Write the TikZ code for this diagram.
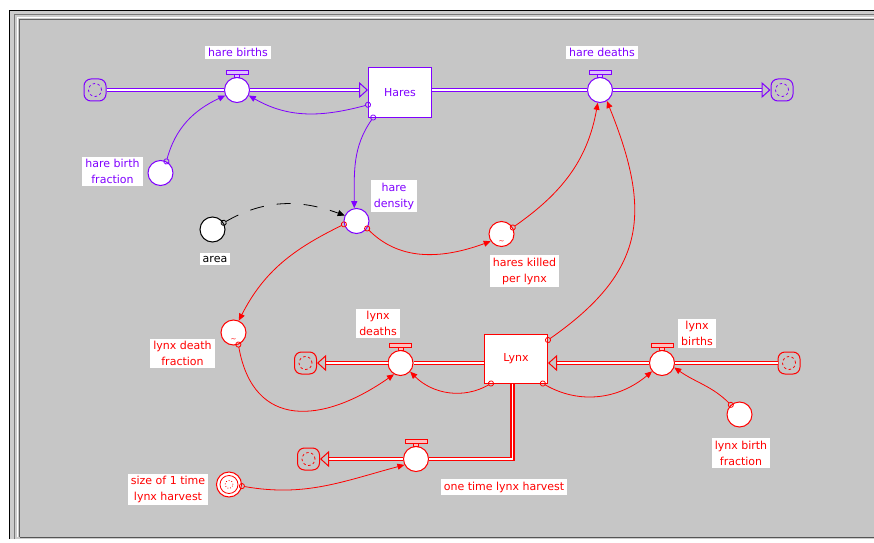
\documentclass[tikz,border=0pt]{standalone}
\usepackage{fontspec}
\setmainfont{DejaVu Sans}
\usetikzlibrary{arrows.meta}

\definecolor{harecol}{RGB}{128,0,255}
\definecolor{lynxcol}{RGB}{255,0,0}
\definecolor{bggray}{RGB}{198,198,198}
\definecolor{rimgray}{RGB}{120,120,120}

\tikzset{
    stock/.style={draw=#1, text=#1, fill=white, line width=1pt, minimum width=63pt, minimum height=49pt, font=\fontsize{11}{13}\selectfont},
    valve/.style={circle, draw=#1, fill=white, line width=1pt, minimum size=25pt, inner sep=0pt},
    conv/.style={circle, draw=#1, fill=white, line width=1pt, minimum size=25pt, inner sep=0pt},
    graphfn/.style={path picture={\node[text=#1, font=\fontsize{7}{7}\selectfont] at ([yshift=-8pt]path picture bounding box.center) {\textasciitilde};}},
    cloud/.style={draw=#1, fill=bggray, rounded corners=7pt, minimum size=22pt, inner sep=0pt, line width=1pt,
        path picture={\draw[#1, dash pattern=on 2.5pt off 2.5pt, line width=0.8pt] (path picture bounding box.center) circle (6.5pt);}},
    lbl/.style={fill=white, inner xsep=3pt, inner ysep=2.5pt, align=center, font=\fontsize{11}{16}\selectfont},
    pipe/.style={double=white, double distance=1.8pt, line width=1.2pt},
    flowtip/.tip={Triangle[open, length=9pt, width=16pt, line width'=1pt]},
    conn/.style={line width=0.8pt, {Circle[open,length=6pt]}-{Triangle[length=7pt,width=6pt]}, shorten <=-3pt},
}

\begin{document}
\begin{tikzpicture}[x=1pt, y=1pt]
    \useasboundingbox (0,0) rectangle (874,542);
    % window frame
    \fill[white] (0,0) rectangle (874,542);
    \fill[bggray!90!white] (9,3) rectangle (874,532);
    \draw[black, line width=1.5pt] (9.5,3) -- (9.5,531.5) -- (874,531.5);
    \draw[rimgray, line width=1pt] (14,3) -- (14,527) -- (874,527);
    \draw[white, line width=1pt] (17.5,5) -- (17.5,524) -- (874,524);
    \draw[rimgray!80!black, line width=1pt] (19.5,5) -- (19.5,522.5) -- (874,522.5);
    \fill[bggray] (20,5) rectangle (874,522);
    \draw[rimgray!70!black, line width=1.5pt] (19.5,4.5) -- (874,4.5);

    % hares
    \node[cloud=harecol] (hbsrc) at (95,452) {};
    \node[valve=harecol] (hb) at (237,452) {};
    \node[stock=harecol] (Hares) at (400,449.5) {Hares};
    \node[valve=harecol] (hd) at (600,452) {};
    \node[cloud=harecol] (hdsink) at (782,452) {};
    \node[conv=harecol] (hbf) at (160.5,369) {};
    \node[conv=harecol] (hden) at (356.5,321) {};
    \node[conv=black] (area) at (212.5,312.5) {};
    \node[conv=lynxcol, graphfn=lynxcol] (hkpl) at (501.5,308) {};

    % lynx
    \node[conv=lynxcol, graphfn=lynxcol] (ldf) at (233.5,209.5) {};
    \node[cloud=lynxcol] (ldsink) at (305.5,179) {};
    \node[valve=lynxcol] (ld) at (400.5,179) {};
    \node[stock=lynxcol] (Lynx) at (516,183.5) {Lynx};
    \node[valve=lynxcol] (lb) at (662,179) {};
    \node[cloud=lynxcol] (lbsrc) at (789,179) {};
    \node[conv=lynxcol] (lbf) at (739.5,127.5) {};
    \node[cloud=lynxcol] (othsink) at (308.5,83) {};
    \node[valve=lynxcol] (oth) at (416,83) {};
    \node[conv=lynxcol, path picture={
        \draw[lynxcol, line width=0.8pt] (path picture bounding box.center) circle (9pt);
        \draw[lynxcol, line width=0.8pt, dotted] (path picture bounding box.center) circle (4pt);}] (size) at (229,57.5) {};

    % labels
    \node[lbl, text=harecol] (hbl) at (238,489.5) {hare births};
    \node[lbl, text=harecol] (hdl) at (602,489.5) {hare deaths};
    \node[lbl, text=harecol] (hbfl) at (112.5,370.5) {hare birth\\fraction};
    \node[lbl, text=harecol] (hdenl) at (394,346) {hare\\density};
    \node[lbl, text=black] (areal) at (215,283) {area};
    \node[lbl, text=lynxcol] (hkpll) at (524.5,271) {hares killed\\per lynx};
    \node[lbl, text=lynxcol] (ldfl) at (182.5,188.5) {lynx death\\fraction};
    \node[lbl, text=lynxcol] (ldl) at (378,218.5) {lynx\\deaths};
    \node[lbl, text=lynxcol] (lbl) at (697,208.5) {lynx\\births};
    \node[lbl, text=lynxcol] (lbfl) at (741,89) {lynx birth\\fraction};
    \node[lbl, text=lynxcol] (othl) at (504,55) {one time lynx harvest};
    \node[lbl, text=lynxcol] (sizel) at (168,52.5) {size of 1 time\\lynx harvest};

    % flows
    \draw[pipe, harecol] (hbsrc) -- (hb);
    \draw[pipe, harecol, -flowtip] (hb) -- (hb -| Hares.west);
    \draw[pipe, harecol] (hb -| Hares.east) -- (hd);
    \draw[pipe, harecol, -flowtip] (hd) -- (hdsink);
    \draw[pipe, lynxcol] (lbsrc) -- (lb);
    \draw[pipe, lynxcol, -flowtip] (lb) -- (lb -| Lynx.east);
    \draw[pipe, lynxcol] (ld -| Lynx.west) -- (ld);
    \draw[pipe, lynxcol, -flowtip] (ld) -- (ldsink);
    \draw[pipe, lynxcol] ([xshift=-3.5pt]Lynx.south) |- (oth);
    \draw[pipe, lynxcol, -flowtip] (oth) -- (othsink);

    % valve handles
    \foreach \v/\c in {hb/harecol, hd/harecol, ld/lynxcol, lb/lynxcol, oth/lynxcol} {
        \draw[\c, line width=0.9pt, fill=\c!25] ([xshift=-2.5pt]\v.north) rectangle ([xshift=2.5pt, yshift=3pt]\v.north);
        \draw[\c, line width=0.9pt, fill=\c!25] ([xshift=-11pt, yshift=3pt]\v.north) rectangle ([xshift=11pt, yshift=6.5pt]\v.north);
    }

    % connectors
    \draw[conn, harecol] (hbf.63) to[out=75, in=205] (hb.205);
    \draw[conn, harecol] (Hares.201) to[out=195, in=-30] (hb.-25);
    \draw[conn, harecol] (Hares.223) to[out=235, in=90] (hden.100);
    \draw[conn, black, dash pattern=on 14pt off 13pt] (area.31) to[out=30, in=160] (hden.155);
    \draw[conn, lynxcol] (hden.195) to[out=206, in=63] (ldf.66);
    \draw[conn, lynxcol] (hden.-35) to[out=-45, in=200] (hkpl.214);
    \draw[conn, lynxcol] (hkpl.30) to[out=35, in=260] (hd.260);
    \draw[conn, lynxcol] (Lynx.30) to[out=35, in=-68, looseness=1.25] (hd.-58);
    \draw[conn, lynxcol] (ldf.-68) to[out=-80, in=215, looseness=1.4] (ld.240);
    \draw[conn, lynxcol] (Lynx.225) to[out=210, in=-45] (ld.-42);
    \draw[conn, lynxcol] (Lynx.-43) to[out=-30, in=220] (lb.220);
    \draw[conn, lynxcol] (lbf.132) to[out=135, in=-35] (lb.-20);
    \draw[conn, lynxcol] (size.-7) to[out=-10, in=195] (oth.207);
\end{tikzpicture}
\end{document}
